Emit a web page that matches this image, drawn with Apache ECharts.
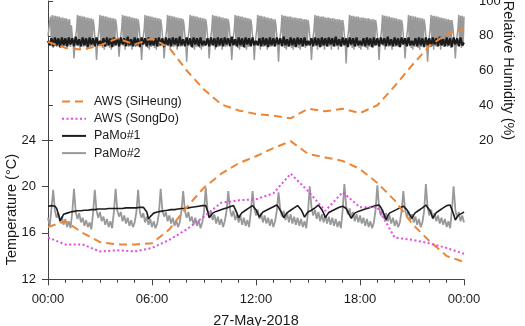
<!DOCTYPE html>
<html>
<head>
<meta charset="utf-8">
<script src="https://cdn.jsdelivr.net/npm/echarts@6/dist/echarts.min.js"></script>
<style>
html, body { margin: 0; padding: 0; background: #fff; }
#chart { width: 525px; height: 326px; }
</style>
</head>
<body>
<div id="chart"></div>
<script>
// hourly AWS stations
const awsHours = [0, 1, 2, 3, 4, 5, 6, 7, 8, 9, 10, 11, 12, 13, 14, 15, 16, 17, 18, 19, 20, 21, 22, 23, 24];
const siheungRH = [76.5, 73, 72, 74.5, 78.5, 75, 78.5, 73, 60, 49, 40.5, 37, 35, 34, 32.5, 38, 36.5, 38, 35.5, 40, 51, 63, 74, 81, 84];
const siheungT = [16.5, 17.0, 16.0, 15.2, 15.0, 15.0, 15.1, 16.3, 18.2, 19.9, 21.1, 22.0, 22.6, 23.3, 23.9, 22.8, 22.5, 22.2, 21.5, 20.3, 18.8, 16.8, 15.3, 14.0, 13.5];
const songdoT = [15.6, 15.0, 15.0, 14.4, 14.5, 14.4, 14.7, 15.4, 16.3, 17.4, 18.6, 18.8, 18.9, 19.4, 21.1, 19.6, 17.9, 19.5, 18.2, 18.2, 15.6, 15.4, 15.1, 14.7, 14.2];

// PaMo sensors: readings every 6 minutes (0.1 h); PaMo#2 RH every 3 minutes
const pamoStepH = 0.1;
const pamo2RHStepH = 0.05;

const pamo1RH = [
  77, 74.5, 78.5, 74, 79, 74.5, 78.5, 73.5, 79, 74.5,
  78.5, 74, 79, 75, 78.5, 74, 79.5, 74.5, 78, 74,
  79, 74.5, 78.5, 73.5, 79, 75, 78.5, 74, 79, 74.5,
  77, 74.5, 78.5, 74, 79, 74.5, 78.5, 73.5, 79, 74.5,
  78.5, 74, 79, 75, 78.5, 74, 79.5, 74.5, 78, 74,
  79, 74.5, 78.5, 73.5, 79, 75, 78.5, 74, 79, 74.5,
  77, 74.5, 78.5, 74, 79, 74.5, 78.5, 73.5, 79, 74.5,
  78.5, 74, 79, 75, 78.5, 74, 79.5, 74.5, 78, 74,
  79, 74.5, 78.5, 73.5, 79, 75, 78.5, 74, 79, 74.5,
  77, 74.5, 78.5, 74, 79, 74.5, 78.5, 73.5, 79, 74.5,
  78.5, 74, 79, 75, 78.5, 74, 79.5, 74.5, 78, 74,
  79, 74.5, 78.5, 73.5, 79, 75, 78.5, 74, 79, 74.5,
  77, 74.5, 78.5, 74, 79, 74.5, 78.5, 73.5, 79, 74.5,
  78.5, 74, 79, 75, 78.5, 74, 79.5, 74.5, 78, 74,
  79, 74.5, 78.5, 73.5, 79, 75, 78.5, 74, 79, 74.5,
  77, 74.5, 78.5, 74, 79, 74.5, 78.5, 73.5, 79, 74.5,
  78.5, 74, 79, 75, 78.5, 74, 79.5, 74.5, 78, 74,
  79, 74.5, 78.5, 73.5, 79, 75, 78.5, 74, 79, 74.5,
  77, 74.5, 78.5, 74, 79, 74.5, 78.5, 73.5, 79, 74.5,
  78.5, 74, 79, 75, 78.5, 74, 79.5, 74.5, 78, 74,
  79, 74.5, 78.5, 73.5, 79, 75, 78.5, 74, 79, 74.5,
  77, 74.5, 78.5, 74, 79, 74.5, 78.5, 73.5, 79, 74.5,
  78.5, 74, 79, 75, 78.5, 74, 79.5, 74.5, 78, 74,
  79, 74.5, 78.5, 73.5, 79, 75, 78.5, 74, 79, 74.5,
  76
];

const pamo2RH = [
  80, 84, 88, 91, 74, 92, 73, 91.5, 74, 91.5, 73.5, 91, 74, 91, 73, 90.5, 74, 90.5, 73.5, 90, 74, 90, 73, 89.5, 74, 89.5, 73.5, 86,
  80, 76, 67, 75, 80, 84, 92, 74, 91.5, 72, 91.5, 74, 91, 73.5, 91, 74, 90.5, 72, 90.5, 74, 90, 73.5, 90, 74, 89.5, 86,
  80, 75, 66, 74, 80, 84, 92, 74, 91.5, 73, 91.5, 72, 91, 73.5, 91, 74, 90.5, 73, 90.5, 72, 90, 73.5, 90, 74, 89.5, 86,
  80, 76, 68, 75, 80, 84, 92, 74, 91.5, 72, 91.5, 74, 91, 73.5, 91, 74, 90.5, 72, 90.5, 74, 90, 73.5, 90, 74, 89.5, 86,
  80, 75, 66, 74, 80, 84, 92, 74, 91.5, 73, 91.5, 72, 91, 73.5, 91, 74, 90.5, 73, 90.5, 72, 90, 73.5, 90, 74, 89.5, 86,
  80, 76, 67, 75, 80, 84, 92, 74, 91.5, 72, 91.5, 74, 91, 73.5, 91, 74, 90.5, 72, 90.5, 74, 90, 73.5, 90, 74, 89.5, 86,
  80, 75, 65, 74, 80, 84, 92, 74, 91.5, 73, 91.5, 72, 91, 73.5, 91, 74, 90.5, 73, 90.5, 72, 90, 73.5, 90, 74, 89.5, 86,
  80, 76, 67, 75, 80, 84, 92, 74, 91.5, 72, 91.5, 74, 91, 73.5, 91, 74, 90.5, 72, 90.5, 74, 90, 73.5, 90, 74, 89.5, 86,
  80, 75, 66, 74, 80, 84, 92, 74, 91.5, 73, 91.5, 72, 91, 73.5, 91, 74, 90.5, 73, 90.5, 72, 90, 73.5, 90, 74, 89.5, 86,
  80, 76, 66, 75, 80, 84, 92, 74, 91.5, 72, 91.5, 74, 91, 73.5, 91, 74, 90.5, 72, 90.5, 74, 90, 73.5, 90, 74, 89.5, 73.5, 89.5, 86,
  80, 76, 65, 75, 80, 84, 92, 74, 91.5, 73, 91.5, 72, 91, 73.5, 91, 74, 91, 73, 90.5, 72, 90.5, 73.5, 90.5, 74, 90, 73, 90, 72, 90, 73.5, 89.5, 74, 89.5, 73, 89.5, 74, 89, 86,
  80, 75, 66, 74, 80, 84, 92, 74, 91.5, 72, 91.5, 74, 91, 73.5, 91, 74, 91, 72, 90.5, 74, 90.5, 73.5, 90.5, 74, 90, 72, 90, 74, 90, 73.5, 89.5, 74, 89.5, 72, 89.5, 74, 89, 73.5, 89, 86,
  80, 76, 64, 75, 80, 84, 92, 74, 91.5, 73, 91.5, 72, 91, 73.5, 91, 74, 91, 73, 90.5, 72, 90.5, 73.5, 90.5, 74, 90, 73, 90, 72, 90, 73.5, 89.5, 74, 89.5, 73, 89.5, 74, 89, 86,
  80, 76, 66, 75, 80, 84, 92, 74, 91.5, 72, 91.5, 74, 91, 73.5, 91, 74, 90.5, 72, 90.5, 74, 90, 73.5, 90, 74, 89.5, 73.5, 89.5, 74, 89, 86,
  80, 76, 67, 75, 80, 84, 92, 74, 91.5, 73, 91.5, 72, 91, 73.5, 91, 74, 90.5, 73, 90.5, 72, 90, 73.5, 90, 74, 89.5, 86,
  80, 75, 65, 74, 80, 84, 92, 74, 91.5, 72, 91.5, 74, 91, 73.5, 91, 74, 90.5, 72, 90.5, 74, 90, 73.5, 90, 74, 89.5, 73.5, 89.5, 74, 89, 73, 89, 86,
  80, 76, 67, 75, 80, 84, 92, 74, 91.5, 73, 91.5, 74, 91
];

const pamo1T = [
  18.3, 18.2, 18.35, 18.2, 18.3, 18.1, 17.6, 17.05, 17.3, 17.6, 17.75,
  17.7, 17.85, 17.8, 17.9, 17.85, 17.95, 17.9, 18.0, 17.9, 18.05, 17.95, 18.05, 17.95, 18.1, 18.0,
  18.1, 18.0, 18.15, 18.05, 18.15, 18.05, 18.15, 18.05, 18.2, 18.1, 18.2, 18.1, 18.2, 18.1, 18.2,
  18.1, 18.25, 18.1, 18.25, 18.15, 18.25, 18.15, 18.25, 18.15, 18.3, 18.15, 18.3, 18.2, 18.3, 18.2, 18.1, 17.8,
  17.2, 17.4, 17.55, 17.7, 17.65, 17.8, 17.75, 17.85, 17.8, 17.9, 17.85, 17.95, 17.85, 18.0, 17.9, 18.0, 17.95,
  18.05, 17.95, 18.1, 18.0, 18.1, 18.0, 18.15, 18.05, 18.2, 18.1, 18.25, 18.15, 18.3, 18.2, 18.35, 18.25, 18.35, 17.9,
  17.3, 17.5, 17.7, 17.65, 17.85, 17.8, 17.95, 17.9, 18.05, 18.0, 18.15, 18.1, 18.25, 18.2, 18.35, 18.05, 17.7,
  17.3, 17.55, 17.75, 17.7, 17.95, 17.9, 18.15, 18.1, 18.35, 18.25, 18.0, 17.65,
  17.35, 17.6, 17.8, 17.75, 17.95, 17.9, 18.1, 18.05, 18.25, 18.2, 18.4, 18.2, 17.95, 17.65,
  17.3, 17.55, 17.75, 17.7, 17.95, 17.9, 18.15, 18.1, 18.35, 18.25, 18.0, 17.7,
  17.35, 17.6, 17.8, 17.75, 17.95, 17.9, 18.15, 18.1, 18.4, 18.3, 18.0, 17.7,
  17.3, 17.55, 17.75, 17.7, 17.9, 17.85, 18.05, 18.0, 18.2, 18.15, 18.3, 18.25, 18.1, 17.8, 17.5,
  17.25, 17.5, 17.7, 17.65, 17.85, 17.8, 17.95, 17.9, 18.05, 18.0, 18.15, 18.1, 18.25, 18.2, 18.35, 18.3, 18.4, 18.2, 17.9, 17.55,
  17.1, 17.45, 17.7, 17.65, 17.85, 17.8, 18.0, 17.95, 18.15, 18.1, 18.3, 18.2, 18.0, 17.75, 17.5,
  17.25, 17.55, 17.75, 17.7, 17.95, 17.9, 18.15, 18.1, 18.4, 18.3, 18.0, 17.7,
  17.25, 17.5, 17.75, 17.7, 17.95, 17.9, 18.15, 18.1, 18.35, 18.3, 18.4, 18.0, 17.6,
  17.1, 17.35, 17.55, 17.5, 17.7, 17.8
];

const pamo2T = [
  17.3, 16.6, 18.1,
  19.7, 17.9, 17.3, 17.7, 16.9, 17.4, 16.7, 17.2, 16.5, 17.0, 16.4, 17.8,
  19.8, 17.8, 17.2, 17.7, 16.9, 17.3, 16.6, 17.1, 16.5, 16.9, 16.3, 17.7,
  19.7, 17.9, 17.3, 17.8, 17.0, 17.4, 16.7, 17.2, 16.5, 17.0, 16.4, 17.8,
  19.8, 17.9, 17.4, 17.8, 17.0, 17.5, 16.8, 17.3, 16.6, 17.1, 16.5, 16.9, 17.8,
  19.7, 17.8, 17.3, 17.7, 16.9, 17.4, 16.7, 17.2, 16.5, 17.0, 16.4, 16.8, 17.7,
  19.8, 17.9, 17.4, 17.8, 17.0, 17.5, 16.8, 17.3, 16.6, 17.1, 16.5, 16.9, 17.9,
  19.6, 17.9, 17.3, 17.8, 17.0, 17.4, 16.7, 17.3, 16.6, 17.1, 16.4, 16.9, 17.8,
  19.9, 18.0, 17.4, 17.9, 17.1, 17.6, 16.8, 17.4, 16.7, 17.2, 16.5, 17.0, 17.9,
  19.6, 18.0, 17.4, 17.9, 17.1, 17.6, 16.9, 17.5, 16.7, 17.3, 16.6, 17.1, 16.5, 17.8,
  19.6, 18.1, 17.5, 18.0, 17.2, 17.7, 16.9, 17.5, 16.8, 17.3, 16.6, 17.2, 16.5, 17.0, 17.9,
  19.5, 18.0, 17.4, 17.9, 17.1, 17.7, 16.9, 17.6, 16.8, 17.4, 16.7, 17.3, 16.6, 17.2, 16.5, 17.0, 16.4, 17.8,
  20.0, 18.2, 17.5, 18.0, 17.2, 17.8, 17.0, 17.6, 16.9, 17.5, 16.8, 17.4, 16.7, 17.3, 16.6, 17.2, 16.5, 17.0, 16.4, 18.0,
  20.2, 18.3, 17.6, 18.1, 17.3, 17.8, 17.0, 17.6, 16.9, 17.5, 16.8, 17.3, 16.6, 17.2, 16.5, 17.0, 16.4, 16.9, 18.0,
  20.1, 18.2, 17.5, 18.0, 17.2, 17.7, 17.0, 17.5, 16.8, 17.3, 16.6, 17.1, 16.5, 16.9, 17.9,
  19.6, 18.0, 17.4, 17.9, 17.1, 17.6, 16.9, 17.4, 16.7, 17.2, 16.5, 16.9, 17.9,
  20.2, 18.2, 17.5, 18.0, 17.2, 17.7, 17.0, 17.5, 16.8, 17.3, 16.7, 17.2, 16.5, 17.0, 16.4, 17.9,
  20.0, 18.0, 17.3, 17.8, 17.0, 17.5, 16.9
];

const xTicks = [0, 6, 12, 18, 24];
const rhTicks = [20, 40, 60, 80, 100];
const tTicks = [12, 16, 20, 24];

const awsPairs = vals => vals.map((v, i) => [awsHours[i], v]);
const pamoPairs = (vals, step) => vals.map((v, i) => [+(i * step).toFixed(3), v]);

const font = 'Liberation Sans, Arial, sans-serif';
const axisCol = '#444';
const textCol = '#1a1a1a';

const orange = '#EE8535';
const magenta = '#E24BE6';
const black = '#1c1c1c';
const gray = '#999999';

const chart = echarts.init(document.getElementById('chart'));
chart.setOption({
  animation: false,
  backgroundColor: '#fff',
  grid: [
    { left: 48, right: 61, top: 1, height: 139, containLabel: false, outerBoundsMode: 'none' },
    { left: 48, right: 61, top: 140, height: 139.3, containLabel: false, outerBoundsMode: 'none' }
  ],
  legend: {
    data: ['AWS (SiHeung)', 'AWS (SongDo)', 'PaMo#1', 'PaMo#2'],
    orient: 'vertical',
    left: 61,
    top: 95,
    padding: 0,
    itemWidth: 24,
    itemHeight: 12,
    itemGap: 4.2,
    itemStyle: { opacity: 0 },
    textStyle: { fontFamily: font, fontSize: 12.5, color: textCol, padding: [0, 0, 0, 3] }
  },
  xAxis: [
    { gridIndex: 0, type: 'value', min: 0, max: 24, show: false },
    {
      gridIndex: 1, type: 'value', min: 0, max: 24, interval: 6,
      name: '27-May-2018', nameLocation: 'middle', nameGap: 34,
      nameTextStyle: { fontFamily: font, fontSize: 14.5, color: textCol },
      axisLine: { lineStyle: { color: axisCol, width: 1 } },
      axisTick: { length: 6, lineStyle: { color: axisCol } },
      minorTick: { show: true, splitNumber: 6, length: 3.5, lineStyle: { color: axisCol } },
      splitLine: { show: false },
      axisLabel: {
        margin: 14, fontFamily: font, fontSize: 13, color: textCol,
        formatter: v => xTicks.includes(v) ? String(v % 24).padStart(2, '0') + ':00' : ''
      }
    }
  ],
  yAxis: [
    {
      gridIndex: 0, type: 'value', position: 'right', min: 20, max: 100, interval: 20,
      name: 'Relative Humidity (%)', nameLocation: 'middle', nameRotate: -90, nameGap: 36,
      nameMoveOverlap: false,
      nameTextStyle: { fontFamily: font, fontSize: 14.5, color: textCol },
      axisLine: { show: true, lineStyle: { color: axisCol, width: 1 } },
      axisTick: { show: true, length: 5, lineStyle: { color: axisCol } },
      splitLine: { show: false },
      axisLabel: {
        margin: 15, fontFamily: font, fontSize: 13, color: textCol,
        formatter: v => rhTicks.includes(v) ? String(v) : ''
      }
    },
    {
      gridIndex: 1, type: 'value', position: 'left', min: 12, max: 24, interval: 4,
      name: 'Temperature (°C)', nameLocation: 'middle', nameRotate: 90, nameGap: 29,
      nameMoveOverlap: false,
      nameTextStyle: { fontFamily: font, fontSize: 14.5, color: textCol },
      axisLine: { show: true, lineStyle: { color: axisCol, width: 1 } },
      axisTick: { show: true, length: 6, lineStyle: { color: axisCol } },
      splitLine: { show: false },
      axisLabel: {
        margin: 12, fontFamily: font, fontSize: 13, color: textCol,
        formatter: v => tTicks.includes(v) ? String(v) : ''
      }
    }
  ],
  series: [
    {
      name: 'PaMo#2', type: 'line', xAxisIndex: 0, yAxisIndex: 0, symbol: 'none',
      color: gray, lineStyle: { color: gray, width: 1.5 }, data: pamoPairs(pamo2RH, pamo2RHStepH)
    },
    {
      name: 'PaMo#2', type: 'line', xAxisIndex: 1, yAxisIndex: 1, symbol: 'none',
      color: gray, lineStyle: { color: gray, width: 1.8 }, data: pamoPairs(pamo2T, pamoStepH)
    },
    {
      name: 'PaMo#1', type: 'line', xAxisIndex: 0, yAxisIndex: 0, symbol: 'none',
      color: black, lineStyle: { color: black, width: 2.2 }, data: pamoPairs(pamo1RH, pamoStepH)
    },
    {
      name: 'PaMo#1', type: 'line', xAxisIndex: 1, yAxisIndex: 1, symbol: 'none',
      color: black, lineStyle: { color: black, width: 1.6 }, data: pamoPairs(pamo1T, pamoStepH)
    },
    {
      name: 'AWS (SiHeung)', type: 'line', xAxisIndex: 0, yAxisIndex: 0, symbol: 'none',
      color: orange, lineStyle: { color: orange, width: 2, type: [8, 5] }, data: awsPairs(siheungRH)
    },
    {
      name: 'AWS (SiHeung)', type: 'line', xAxisIndex: 1, yAxisIndex: 1, symbol: 'none',
      color: orange, lineStyle: { color: orange, width: 2, type: [8, 5] }, data: awsPairs(siheungT)
    },
    {
      name: 'AWS (SongDo)', type: 'line', xAxisIndex: 1, yAxisIndex: 1, symbol: 'none',
      color: magenta, lineStyle: { color: magenta, width: 2, type: [2, 2.5] }, data: awsPairs(songdoT)
    }
  ]
});
</script>
</body>
</html>
